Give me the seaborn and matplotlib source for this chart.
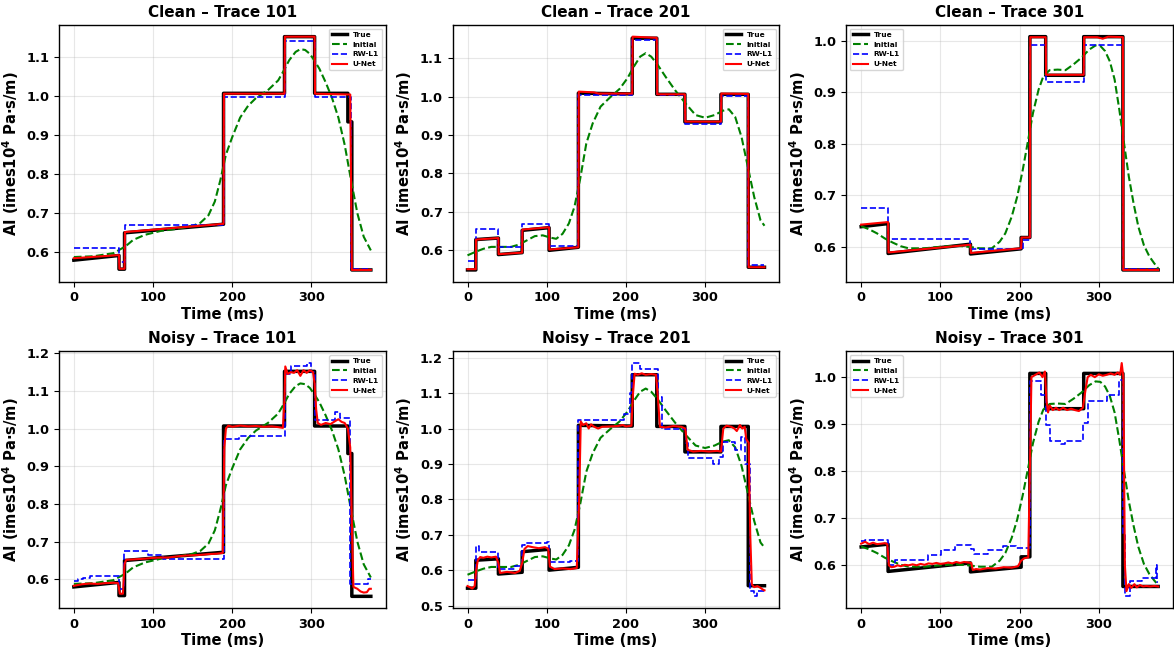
import numpy as np
import matplotlib
matplotlib.use("Agg")
import matplotlib.pyplot as plt
import seaborn as sns

# ---------------- data ----------------
# True impedance (polylines: time ms, AI)
t_true_101 = [0, 57, 57, 64, 64, 189, 189, 266, 266, 304, 304, 346, 346, 351, 351, 375]
ai_true_101 = [0.580, 0.592, 0.557, 0.557, 0.650, 0.672, 1.007, 1.007, 1.152, 1.152, 1.007, 1.007, 0.934, 0.934, 0.555, 0.555]

t_true_201 = [0, 10.5, 10.5, 39, 39, 69, 69, 103, 103, 140, 140, 208, 208, 239, 239, 274.5, 274.5, 320, 320, 354.5, 354.5, 375]
ai_true_201 = [0.549, 0.549, 0.628, 0.632, 0.589, 0.594, 0.652, 0.659, 0.600, 0.608, 1.009, 1.007, 1.152, 1.152, 1.006, 1.006, 0.934, 0.934, 1.006, 1.006, 0.556, 0.556]

t_true_301 = [0, 34, 34, 138, 138, 202, 202, 213, 213, 233, 233, 281, 281, 330.5, 330.5, 375]
ai_true_301 = [0.639, 0.645, 0.587, 0.605, 0.586, 0.596, 0.618, 0.618, 1.008, 1.008, 0.933, 0.933, 1.008, 1.008, 0.555, 0.555]

# Initial (low-frequency) model
t_init_101 = [0, 25, 50, 65, 75, 90, 110, 130, 150, 160, 170, 178, 185, 192, 200, 210, 220, 230, 245, 258, 265,
              272, 280, 286, 292, 298, 304, 310, 318, 326, 334, 342, 350, 358, 366, 375]
ai_init_101 = [0.588, 0.590, 0.598, 0.615, 0.632, 0.645, 0.655, 0.660, 0.668, 0.676, 0.695, 0.730, 0.785, 0.850, 0.895,
               0.945, 0.975, 0.995, 1.015, 1.040, 1.065, 1.092, 1.113, 1.120, 1.118, 1.108, 1.090, 1.070, 1.035, 0.995,
               0.945, 0.875, 0.785, 0.700, 0.640, 0.605]

t_init_201 = [0, 10, 20, 30, 40, 55, 65, 75, 85, 95, 105, 112, 120, 128, 135, 142, 150, 158, 168, 180, 192, 202, 210,
              218, 225, 232, 240, 250, 262, 275, 288, 300, 312, 322, 330, 338, 346, 354, 362, 370, 375]
ai_init_201 = [0.587, 0.596, 0.604, 0.609, 0.609, 0.609, 0.615, 0.626, 0.637, 0.639, 0.633, 0.630, 0.643, 0.670,
               0.713, 0.783, 0.878, 0.930, 0.974, 0.998, 1.020, 1.048, 1.078, 1.104, 1.113, 1.104, 1.083, 1.052,
               1.017, 0.983, 0.952, 0.945, 0.952, 0.963, 0.967, 0.947, 0.895, 0.817, 0.739, 0.678, 0.664]

t_init_301 = [0, 10, 20, 30, 40, 50, 60, 80, 100, 120, 135, 150, 165, 175, 182, 190, 197, 204, 210, 217, 224, 230,
              238, 248, 258, 268, 278, 288, 296, 302, 308, 314, 320, 326, 332, 338, 344, 350, 357, 364, 370, 375]
ai_init_301 = [0.640, 0.634, 0.626, 0.616, 0.608, 0.601, 0.597, 0.597, 0.600, 0.602, 0.600, 0.597, 0.597, 0.610,
               0.626, 0.658, 0.697, 0.749, 0.800, 0.860, 0.905, 0.931, 0.943, 0.944, 0.943, 0.954, 0.967, 0.983,
               0.991, 0.990, 0.980, 0.960, 0.925, 0.866, 0.800, 0.736, 0.684, 0.639, 0.603, 0.581, 0.568, 0.558]

# RW-L1 inversion (piecewise constant: edges in ms, levels)
rw_clean_101_edges = [0, 57, 64, 189, 266, 304, 350, 375]
rw_clean_101_levels = [0.610, 0.575, 0.670, 0.997, 1.140, 0.997, 0.557]
rw_clean_201_edges = [0, 10.5, 39, 69, 103, 140, 208, 239, 274.5, 320, 354.5, 375]
rw_clean_201_levels = [0.573, 0.655, 0.608, 0.669, 0.610, 1.003, 1.148, 1.003, 0.930, 1.002, 0.562]
rw_clean_301_edges = [0, 34, 138, 204, 213, 233, 281, 330.5, 375]
rw_clean_301_levels = [0.675, 0.615, 0.595, 0.614, 0.991, 0.920, 0.991, 0.556]

rw_noisy_101_edges = [0, 5, 12, 20, 57.5, 63, 93, 112, 189, 208, 266, 274, 294, 300, 304, 330, 336, 349, 371, 375]
rw_noisy_101_levels = [0.596, 0.600, 0.604, 0.609, 0.575, 0.674, 0.665, 0.655, 0.972, 0.981, 1.144, 1.166,
                       1.174, 1.149, 1.023, 1.043, 1.027, 0.588, 0.600]
rw_noisy_201_edges = [0, 10.5, 15, 39, 60, 69, 73, 100, 103, 130, 140, 197, 205, 208, 218, 240, 245, 276, 278,
                      310, 318, 322, 338, 345, 350, 357, 362, 366, 375]
rw_noisy_201_levels = [0.573, 0.667, 0.650, 0.603, 0.612, 0.670, 0.676, 0.680, 0.622, 0.626, 1.023, 1.042, 1.100,
                       1.185, 1.169, 1.089, 0.998, 0.960, 0.918, 0.900, 0.920, 0.963, 0.940, 0.977, 0.900, 0.540,
                       0.526, 0.540]
rw_noisy_301_edges = [0, 5, 34, 43, 84, 101, 118, 139, 143, 160, 179, 195, 213, 227, 233, 238, 252, 258, 280, 286,
                      310, 325, 331, 333, 340, 355, 372, 373, 375]
rw_noisy_301_levels = [0.651, 0.654, 0.600, 0.611, 0.621, 0.633, 0.644, 0.635, 0.624, 0.632, 0.640, 0.637, 0.991,
                       0.962, 0.899, 0.865, 0.858, 0.864, 0.902, 0.950, 0.962, 0.994, 0.665, 0.534, 0.567, 0.572,
                       0.600, 0.565]

# U-Net prediction (polylines)
t_unet_clean_101 = [0, 57, 57.5, 64, 64.5, 189, 189.5, 266, 266.5, 304, 304.5, 349, 351, 375]
ai_unet_clean_101 = [0.585, 0.593, 0.558, 0.558, 0.652, 0.673, 1.006, 1.006, 1.152, 1.152, 1.006, 1.004, 0.555, 0.555]
t_unet_clean_201 = [0, 10.5, 10.8, 39, 39.3, 69, 69.3, 103, 103.3, 140, 140.5, 160, 165, 208, 208.5, 239, 239.5,
                    274.5, 275, 320, 320.5, 354.5, 355, 375]
ai_unet_clean_201 = [0.551, 0.551, 0.628, 0.632, 0.590, 0.594, 0.654, 0.660, 0.602, 0.608, 1.013, 1.011, 1.008,
                     1.008, 1.156, 1.153, 1.006, 1.006, 0.935, 0.935, 1.008, 1.007, 0.556, 0.556]
t_unet_clean_301 = [0, 34, 34.5, 138, 138.5, 202, 202.5, 213, 213.5, 233, 233.5, 281, 281.5, 298, 305, 312,
                    330.5, 331, 375]
ai_unet_clean_301 = [0.643, 0.648, 0.589, 0.604, 0.588, 0.597, 0.618, 0.618, 1.007, 1.007, 0.934, 0.934, 1.007,
                     1.007, 1.004, 1.008, 1.007, 0.555, 0.555]

t_unet_noisy_101 = [0, 10, 20, 30, 40, 50, 56, 58, 62, 64, 66, 75, 90, 100, 110, 120, 130, 140, 150, 160, 170, 180,
                    188, 190, 192, 195, 200, 210, 220, 230, 240, 250, 258, 264, 266, 267, 270, 274, 278, 282, 286,
                    290, 294, 298, 302, 304, 306, 308, 312, 318, 324, 330, 334, 338, 342, 346, 349, 351, 353, 358,
                    362, 366, 370, 373, 375]
ai_unet_noisy_101 = [0.583, 0.587, 0.589, 0.588, 0.590, 0.591, 0.590, 0.562, 0.562, 0.640, 0.652, 0.653, 0.655,
                     0.657, 0.658, 0.658, 0.661, 0.663, 0.664, 0.665, 0.667, 0.668, 0.670, 0.950, 1.000, 1.008,
                     1.005, 1.008, 1.006, 1.007, 1.005, 1.006, 1.004, 1.002, 1.080, 1.165, 1.145, 1.150, 1.148,
                     1.155, 1.140, 1.155, 1.148, 1.155, 1.150, 1.120, 1.050, 1.015, 1.010, 1.015, 1.012, 1.020,
                     1.025, 1.018, 1.015, 1.000, 0.950, 0.750, 0.580, 0.575, 0.568, 0.565, 0.566, 0.575, 0.575]
t_unet_noisy_201 = [0, 3, 6, 9, 11, 13, 16, 20, 25, 30, 36, 39, 41, 50, 60, 66, 69, 72, 76, 82, 90, 98, 102, 104,
                    110, 120, 130, 138, 141, 143, 146, 150, 153, 156, 160, 165, 170, 180, 190, 196, 200, 207, 209,
                    211, 215, 220, 225, 232, 238, 240, 243, 250, 260, 270, 275, 278, 285, 295, 305, 315, 320, 323,
                    327, 333, 337, 340, 344, 347, 350, 352, 355, 357, 359, 362, 366, 370, 373, 375]
ai_unet_noisy_201 = [0.555, 0.552, 0.548, 0.555, 0.600, 0.628, 0.637, 0.635, 0.638, 0.636, 0.638, 0.620, 0.592,
                     0.595, 0.592, 0.598, 0.620, 0.660, 0.668, 0.665, 0.662, 0.665, 0.660, 0.610, 0.603, 0.605,
                     0.603, 0.606, 0.800, 1.020, 1.010, 1.015, 1.000, 1.012, 1.005, 1.000, 1.005, 1.006, 1.007,
                     1.010, 1.006, 1.008, 1.100, 1.155, 1.152, 1.156, 1.152, 1.154, 1.152, 1.100, 1.005, 1.003,
                     1.007, 1.005, 1.000, 0.940, 0.935, 0.937, 0.935, 0.937, 0.935, 1.000, 1.008, 1.005, 1.000,
                     0.993, 1.010, 1.000, 1.005, 0.970, 0.960, 0.700, 0.560, 0.552, 0.555, 0.550, 0.545, 0.543]
t_unet_noisy_301 = [0, 5, 10, 15, 20, 25, 30, 33, 35, 38, 42, 46, 50, 55, 60, 65, 70, 75, 80, 85, 90, 95, 100, 105,
                    110, 115, 120, 125, 130, 135, 139, 141, 145, 150, 160, 170, 180, 190, 198, 202, 206, 211, 213,
                    215, 220, 225, 229, 232, 234, 236, 238, 242, 246, 250, 255, 260, 265, 270, 275, 280, 283, 286,
                    290, 295, 300, 305, 310, 315, 320, 324, 327, 329, 331, 333, 335, 338, 341, 345, 348, 352, 356,
                    360, 365, 370, 375]
ai_unet_noisy_301 = [0.646, 0.650, 0.645, 0.648, 0.645, 0.646, 0.647, 0.645, 0.600, 0.596, 0.597, 0.600, 0.598,
                     0.601, 0.600, 0.602, 0.600, 0.603, 0.601, 0.604, 0.603, 0.605, 0.603, 0.604, 0.606, 0.604,
                     0.607, 0.605, 0.607, 0.606, 0.605, 0.590, 0.592, 0.591, 0.594, 0.593, 0.596, 0.595, 0.598,
                     0.610, 0.615, 0.617, 0.800, 1.000, 1.005, 1.010, 1.000, 1.012, 0.950, 0.925, 0.940, 0.930,
                     0.935, 0.930, 0.935, 0.930, 0.933, 0.930, 0.928, 0.935, 0.970, 1.000, 1.005, 1.000, 1.006,
                     1.003, 1.005, 1.008, 1.005, 1.010, 1.005, 1.030, 1.000, 0.600, 0.545, 0.560, 0.552, 0.560,
                     0.553, 0.558, 0.555, 0.556, 0.555, 0.556, 0.555]

trace_ids = [101, 201, 301]
conditions = ["Clean", "Noisy"]

# ---------------- plotting ----------------
plt.rcParams["font.family"] = ["DejaVu Sans"]
plt.rcParams["mathtext.fontset"] = "dejavusans"
plt.rcParams["mathtext.default"] = "bf"

def steps(edges, levels):
    e = np.asarray(edges, float)
    lv = np.asarray(levels, float)
    return np.repeat(e, 2)[1:-1], np.repeat(lv, 2)

true_data = {101: (t_true_101, ai_true_101), 201: (t_true_201, ai_true_201), 301: (t_true_301, ai_true_301)}
init_data = {101: (t_init_101, ai_init_101), 201: (t_init_201, ai_init_201), 301: (t_init_301, ai_init_301)}
rw_data = {
    ("Clean", 101): steps(rw_clean_101_edges, rw_clean_101_levels),
    ("Clean", 201): steps(rw_clean_201_edges, rw_clean_201_levels),
    ("Clean", 301): steps(rw_clean_301_edges, rw_clean_301_levels),
    ("Noisy", 101): steps(rw_noisy_101_edges, rw_noisy_101_levels),
    ("Noisy", 201): steps(rw_noisy_201_edges, rw_noisy_201_levels),
    ("Noisy", 301): steps(rw_noisy_301_edges, rw_noisy_301_levels),
}
unet_data = {
    ("Clean", 101): (t_unet_clean_101, ai_unet_clean_101),
    ("Clean", 201): (t_unet_clean_201, ai_unet_clean_201),
    ("Clean", 301): (t_unet_clean_301, ai_unet_clean_301),
    ("Noisy", 101): (t_unet_noisy_101, ai_unet_noisy_101),
    ("Noisy", 201): (t_unet_noisy_201, ai_unet_noisy_201),
    ("Noisy", 301): (t_unet_noisy_301, ai_unet_noisy_301),
}

fig, axes = plt.subplots(2, 3, figsize=(11.74, 6.48), dpi=100)
fig.subplots_adjust(left=59 / 1174, right=1173 / 1174, top=1 - 25 / 648, bottom=1 - 608 / 648,
                    wspace=0.205, hspace=0.272)

common = dict(estimator=None, sort=False)
for r, cond in enumerate(conditions):
    for c, tid in enumerate(trace_ids):
        ax = axes[r, c]
        tt, vv = true_data[tid]
        sns.lineplot(x=tt, y=vv, ax=ax, color="black", linewidth=2.5, label="True", **common)
        ti, vi = init_data[tid]
        sns.lineplot(x=ti, y=vi, ax=ax, color="green", linewidth=1.5, linestyle="--", label="Initial", **common)
        tr, vr = rw_data[(cond, tid)]
        sns.lineplot(x=tr, y=vr, ax=ax, color="blue", linewidth=1.2, linestyle="--", label="RW-L1", **common)
        tu, vu = unet_data[(cond, tid)]
        sns.lineplot(x=tu, y=vu, ax=ax, color="red", linewidth=1.5, label="U-Net", **common)

        ax.set_title(f"{cond} – Trace {tid}", fontsize=11, fontweight="bold")
        ax.set_xlabel("Time (ms)", fontsize=10.6, fontweight="bold", labelpad=2)
        ax.set_ylabel("AI (imes10$^4$ Pa·s/m)", fontsize=10.6, fontweight="bold")
        ax.grid(True, alpha=0.3)
        ax.set_xticks([0, 100, 200, 300])
        ax.tick_params(axis="both", labelsize=9.3, direction="out", length=3.5, width=0.8)
        for lab in ax.get_xticklabels() + ax.get_yticklabels():
            lab.set_fontweight("bold")
        for s in ax.spines.values():
            s.set_color("black")
            s.set_linewidth(1.0)
        loc = "upper left" if tid == 301 else "upper right"
        ax.legend(loc=loc, prop={"weight": "bold", "size": 5.3}, frameon=True)

fig.savefig("out.png", dpi=100)
